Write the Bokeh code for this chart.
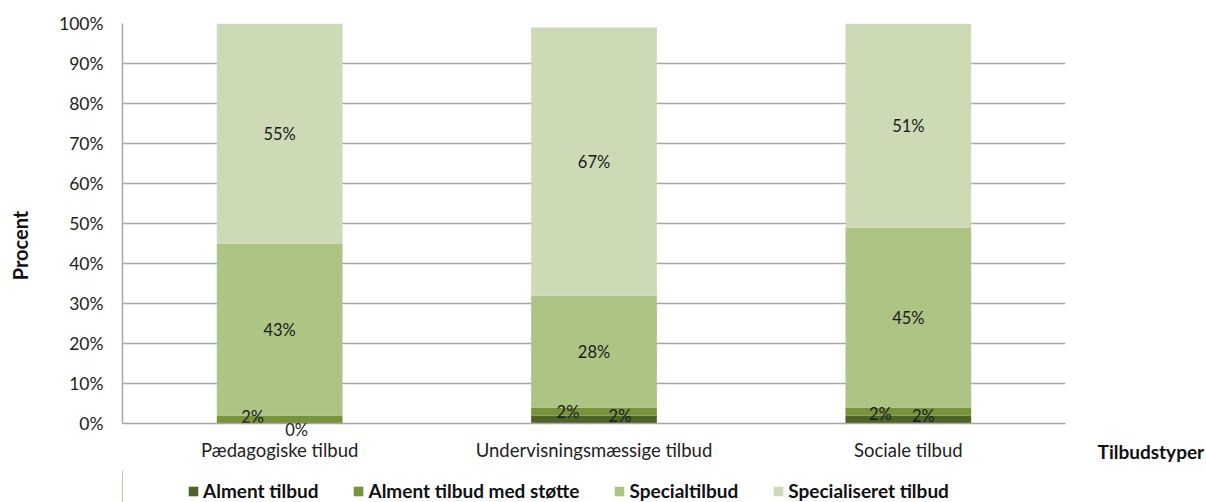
from bokeh.plotting import figure
from bokeh.layouts import column
from bokeh.models import ColumnDataSource, Label, Legend, LegendItem, PrintfTickFormatter, FixedTicker
from bokeh.core.properties import value
from bokeh.embed import file_html
from bokeh.resources import INLINE
import math

categories = ["Pædagogiske tilbud", "Undervisningsmæssige tilbud", "Sociale tilbud"]
series = ["Alment tilbud", "Alment tilbud med støtte", "Specialtilbud", "Specialiseret tilbud"]
alment = [0, 2, 2]
alment_stotte = [2, 2, 2]
special = [43, 28, 45]
specialiseret = [55, 67, 51]
y_ticks = [0, 10, 20, 30, 40, 50, 60, 70, 80, 90, 100]

colors = ["#4F6228", "#77933C", "#ADC584", "#CDDAB6"]
# manual label nudges (screen px) for the small segments, per series per category
x_nudge = [[17, 26, 15], [-27, -26, -28], [0, 0, 0], [0, 0, 0]]
y_nudge = [[6, -4, -4], [-3, 0, 2], [0, 0, 0], [0, 0, 0]]

FONT = "Lato"

data = {"cat": categories, series[0]: alment, series[1]: alment_stotte,
        series[2]: special, series[3]: specialiseret}
src = ColumnDataSource(data)

p = figure(x_range=categories, y_range=(0, 100), frame_width=943, frame_height=400,
           output_backend="svg", toolbar_location=None,
           min_border_left=122, min_border_right=141, min_border_top=23, min_border_bottom=47)
p.outline_line_color = None
p.background_fill_color = "white"

rends = p.vbar_stack(series, x="cat", width=0.4, color=colors, line_color=None, source=src)

# data labels
vals = [alment, alment_stotte, special, specialiseret]
lx, ly, lt, lxo, lyo = [], [], [], [], []
outside = []
for j, c in enumerate(categories):
    base = 0
    for i in range(len(series)):
        v = vals[i][j]
        if v == 0:
            outside.append((j + 0.5, base, f"{v}%", x_nudge[i][j], y_nudge[i][j]))
        else:
            lx.append(c)
            ly.append(base + v / 2)
            lt.append(f"{v}%")
            lxo.append(x_nudge[i][j])
            lyo.append(y_nudge[i][j])
        base += v
lsrc = ColumnDataSource(dict(x=lx, y=ly, t=lt, xo=lxo, yo=lyo))
p.text(x="x", y="y", text="t", x_offset="xo", y_offset="yo", source=lsrc,
       text_align="center", text_baseline="middle", text_font=value(FONT),
       text_font_size="16.5px", text_color="#1a1a1a")

# axes
p.yaxis.ticker = FixedTicker(ticks=y_ticks)
p.yaxis.formatter = PrintfTickFormatter(format="%d%%")
for ax in (p.xaxis[0], p.yaxis[0]):
    ax.axis_line_color = "#A6A6A6"
    ax.axis_line_width = 1.5
    ax.major_tick_line_color = None
    ax.minor_tick_line_color = None
    ax.major_tick_out = 0
    ax.major_tick_in = 0
    ax.major_label_text_font = FONT
    ax.major_label_text_color = "#222222"
p.yaxis.major_label_text_font_size = "17.5px"
p.xaxis.major_label_text_font_size = "18.5px"
p.yaxis.major_label_standoff = 19
p.xaxis.major_label_standoff = 15

p.xgrid.grid_line_color = None
p.ygrid.grid_line_color = "#A6A6A6"
p.ygrid.grid_line_width = 1.5
p.ygrid.ticker = FixedTicker(ticks=y_ticks)

p.add_layout(Label(x=-0.3245, y=44.5, text="Procent",
                   angle=math.pi / 2, text_align="center", text_baseline="middle",
                   text_font=FONT, text_font_size="20px", text_font_style="bold",
                   text_color="#111111"), "left")
p.add_layout(Label(x=3.102, y=-7, text="Tilbudstyper",
                   text_align="left", text_baseline="middle",
                   text_font=FONT, text_font_size="19px", text_font_style="bold",
                   text_color="#111111"), "right")

for (xx, yy, tt, xo, yo) in outside:
    p.add_layout(Label(x=xx, y=yy, text=tt, x_offset=xo, y_offset=-yo,
                       text_align="center", text_baseline="middle",
                       text_font=FONT, text_font_size="16.5px", text_color="#1a1a1a"), "left")

# legend strip below the chart (its frame is aligned with the chart's frame)
q = figure(width=1206, height=32, x_range=(0, 1), y_range=(0, 1),
           output_backend="svg", toolbar_location=None,
           x_axis_location=None, y_axis_location=None, min_border=0)
q.outline_line_color = None
q.grid.visible = False
# swatch renderers kept outside the visible range; they only feed the legend
swatches = [q.vbar(x=[-5], top=[1], width=0.1, color=c, line_color=None) for c in colors]
legend = Legend(items=[LegendItem(label=s, renderers=[r]) for s, r in zip(series, swatches)],
                location=(65, 0), orientation="horizontal", padding=0, margin=0,
                spacing=34, border_line_color=None, background_fill_alpha=0,
                glyph_width=12, glyph_height=12, label_standoff=4, label_height=18,
                label_text_font=FONT, label_text_font_size="19px",
                label_text_font_style="bold", label_text_color="#111111")
q.add_layout(legend, "center")

open("out.html", "w").write(file_html(column(p, q, spacing=0), INLINE))
